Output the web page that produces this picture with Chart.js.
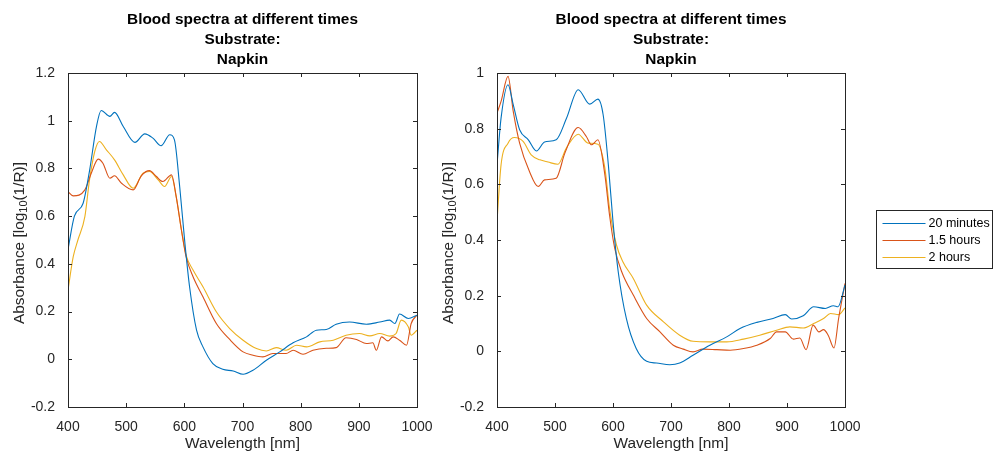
<!DOCTYPE html>
<html lang="en">
<head>
<meta charset="utf-8">
<script src="https://cdn.jsdelivr.net/npm/chart.js@4.4.1/dist/chart.umd.min.js"></script>
<style>
  html, body { margin: 0; padding: 0; background: #fff; }
  body { width: 993px; height: 455px; position: relative; overflow: hidden; }
  .box { position: absolute; top: 0; height: 455px; }
  #boxA { left: 0; width: 460px; }
  #boxB { left: 430px; width: 563px; }
</style>
</head>
<body>
<div class="box" id="boxA"><canvas id="chartA"></canvas></div>
<div class="box" id="boxB"><canvas id="chartB"></canvas></div>
<script>
// -------------------------------------------------------------------
// Data
// -------------------------------------------------------------------
const seriesLabels = ["20 minutes", "1.5 hours", "2 hours"];
const seriesColors = ["#0072BD", "#D95319", "#EDB120"];
const titleLines = ["Blood spectra at different times", "Substrate:", "Napkin"];
const xTicks = [400, 500, 600, 700, 800, 900, 1000];
const yTicksA = [-0.2, 0, 0.2, 0.4, 0.6, 0.8, 1, 1.2];
const yTicksB = [-0.2, 0, 0.2, 0.4, 0.6, 0.8, 1];

// left panel
const wlA20 = [400,411,426,437,449,457,472,480,495,515,532,546,560,575,583,592,601,609,621,632,649,666,684,701,718,741,764,787,810,827,844,861,884,913,936,953,962,970,985,1000];
const absA20 = [0.46,0.60,0.654,0.79,0.976,1.043,1.018,1.035,0.976,0.909,0.945,0.927,0.895,0.941,0.92,0.724,0.486,0.304,0.122,0.052,-0.018,-0.042,-0.049,-0.063,-0.046,-0.004,0.031,0.069,0.094,0.122,0.125,0.147,0.156,0.147,0.156,0.164,0.15,0.19,0.171,0.185];
const wlA15 = [400,409,429,440,452,460,472,480,492,512,526,540,552,563,578,586,595,603,615,632,655,678,701,718,735,752,775,787,804,821,844,861,878,896,913,924,930,939,950,959,970,982,990,1000];
const absA15 = [0.703,0.685,0.71,0.78,0.839,0.822,0.759,0.769,0.738,0.71,0.769,0.791,0.766,0.745,0.773,0.682,0.542,0.43,0.346,0.262,0.15,0.083,0.031,0.017,0.01,0.024,0.024,0.038,0.021,0.038,0.046,0.049,0.09,0.083,0.066,0.069,0.038,0.094,0.077,0.094,0.08,0.059,0.15,0.185];
const wlA2 = [400,409,417,429,437,446,454,466,480,495,512,529,540,555,566,578,586,595,603,615,632,655,678,701,724,741,758,775,793,810,833,856,878,901,919,936,953,964,973,985,990,1000];
const absA2 = [0.29,0.43,0.5,0.598,0.752,0.871,0.913,0.878,0.836,0.773,0.717,0.78,0.787,0.752,0.724,0.766,0.682,0.542,0.437,0.374,0.304,0.199,0.129,0.08,0.045,0.035,0.049,0.038,0.059,0.052,0.073,0.08,0.101,0.108,0.098,0.108,0.097,0.108,0.164,0.136,0.101,0.122];

// right panel
const wlB20 = [400,407,419,428,439,454,468,482,502,520,540,560,574,583,592,600,609,623,640,658,675,698,715,738,767,796,819,848,876,897,908,928,946,966,980,988,1000];
const absB20 = [0.67,0.838,0.958,0.886,0.796,0.76,0.72,0.752,0.76,0.838,0.94,0.888,0.906,0.85,0.67,0.466,0.286,0.118,0.01,-0.036,-0.042,-0.048,-0.042,-0.014,0.022,0.052,0.082,0.104,0.118,0.132,0.116,0.128,0.16,0.154,0.164,0.16,0.238];
const wlB15 = [400,407,419,428,439,456,471,482,502,517,540,554,563,574,586,594,603,615,635,658,681,704,721,738,755,779,802,825,848,871,882,897,911,922,933,945,955,963,971,981,989,1000];
const absB15 = [0.856,0.898,0.988,0.862,0.748,0.646,0.592,0.616,0.622,0.712,0.804,0.772,0.742,0.76,0.634,0.49,0.37,0.286,0.202,0.118,0.07,0.022,0.008,-0.002,0.008,0.006,0.004,0.01,0.022,0.046,0.07,0.07,0.044,0.048,0.006,0.094,0.07,0.078,0.058,0.012,0.118,0.244];
const wlB2 = [400,407,419,430,445,459,474,488,505,520,540,557,574,586,594,606,617,635,658,687,715,738,767,796,825,853,882,905,928,946,963,975,989,1000];
const absB2 = [0.466,0.67,0.748,0.768,0.754,0.706,0.688,0.68,0.672,0.732,0.78,0.748,0.744,0.658,0.514,0.382,0.322,0.262,0.166,0.106,0.058,0.036,0.034,0.034,0.044,0.058,0.076,0.088,0.084,0.1,0.118,0.136,0.132,0.156];

// -------------------------------------------------------------------
// Helpers
// -------------------------------------------------------------------
const FONT = "'Liberation Sans', Arial, Helvetica, sans-serif";
const AXIS_COLOR = "#262626";

function makeSeries(i, wl, ab) {
  return {
    label: seriesLabels[i],
    data: wl.map((x, k) => ({ x: x, y: ab[k] })),
    borderColor: seriesColors[i],
    borderWidth: 1.1,
    pointRadius: 0,
    fill: false,
    cubicInterpolationMode: "monotone"
  };
}

function drawYLabel(ctx, x, y) {
  const big = "15.4px " + FONT;
  const small = "11px " + FONT;
  const parts = [["Absorbance [log", big, 0], ["10", small, 4], ["(1/R)]", big, 0]];
  ctx.save();
  ctx.translate(x, y);
  ctx.rotate(-Math.PI / 2);
  ctx.fillStyle = AXIS_COLOR;
  ctx.textBaseline = "middle";
  ctx.textAlign = "left";
  let total = 0;
  parts.forEach(p => { ctx.font = p[1]; total += ctx.measureText(p[0]).width; });
  let cx = -total / 2;
  parts.forEach(p => {
    ctx.font = p[1];
    ctx.fillText(p[0], cx, p[2]);
    cx += ctx.measureText(p[0]).width;
  });
  ctx.restore();
}

// matlab-ish box, inward ticks on all sides, titles, legend
const matlabAxes = {
  id: "matlabAxes",
  afterDatasetsDraw(chart, args, opts) {
    const { ctx, chartArea: a, scales } = chart;
    const tl = 4;
    ctx.save();
    ctx.strokeStyle = AXIS_COLOR;
    ctx.lineWidth = 1;
    ctx.beginPath();
    scales.x.ticks.forEach(t => {
      const px = Math.round(scales.x.getPixelForValue(t.value)) + 0.5;
      ctx.moveTo(px, a.bottom); ctx.lineTo(px, a.bottom - tl);
      ctx.moveTo(px, a.top); ctx.lineTo(px, a.top + tl);
    });
    scales.y.ticks.forEach(t => {
      const py = Math.round(scales.y.getPixelForValue(t.value)) + 0.5;
      ctx.moveTo(a.left, py); ctx.lineTo(a.left + tl, py);
      ctx.moveTo(a.right, py); ctx.lineTo(a.right - tl, py);
    });
    ctx.stroke();
    ctx.strokeRect(Math.round(a.left) + 0.5, Math.round(a.top) + 0.5,
      Math.round(a.right - a.left), Math.round(a.bottom - a.top));
    ctx.restore();
  },
  afterDraw(chart, args, opts) {
    const { ctx, chartArea: a } = chart;
    const cx = (a.left + a.right) / 2;
    ctx.save();
    ctx.fillStyle = "#000";
    ctx.font = "bold 15.4px " + FONT;
    ctx.textAlign = "center";
    ctx.textBaseline = "middle";
    titleLines.forEach((line, i) => ctx.fillText(line, cx, a.top - 53 + i * 20));
    ctx.restore();

    drawYLabel(ctx, a.left - 48.5, (a.top + a.bottom) / 2 + 3);

    if (opts.legend) {
      const cy = (a.top + a.bottom) / 2 - 1;
      const bx = a.right + 31.5, by = Math.round(cy - 29) + 0.5;
      ctx.save();
      ctx.fillStyle = "#fff";
      ctx.fillRect(bx, by, 116, 58);
      ctx.strokeStyle = AXIS_COLOR;
      ctx.lineWidth = 1;
      ctx.strokeRect(bx, by, 116, 58);
      ctx.font = "12.5px " + FONT;
      ctx.textBaseline = "middle";
      ctx.textAlign = "left";
      chart.data.datasets.forEach((ds, i) => {
        const ry = Math.round(cy - 16 + i * 17) + 0.5;
        ctx.strokeStyle = ds.borderColor;
        ctx.lineWidth = 1.1;
        ctx.beginPath();
        ctx.moveTo(bx + 6, ry); ctx.lineTo(bx + 49, ry);
        ctx.stroke();
        ctx.fillStyle = "#000";
        ctx.fillText(ds.label, bx + 52, ry);
      });
      ctx.restore();
    }
  }
};

// -------------------------------------------------------------------
// Chart setup
// -------------------------------------------------------------------
function makeChart(canvasId, datasets, yTicks, yWidth, padRight, legend) {
  const ctx = document.getElementById(canvasId).getContext("2d");
  return new Chart(ctx, {
    type: "line",
    data: { datasets },
    plugins: [matlabAxes],
    options: {
      responsive: true,
      maintainAspectRatio: false,
      animation: false,
      devicePixelRatio: 1,
      layout: { padding: { top: 73, right: padRight, bottom: 0, left: 0 } },
      plugins: {
        legend: { display: false },
        tooltip: { enabled: false },
        title: { display: false },
        matlabAxes: { legend: legend }
      },
      scales: {
        x: {
          type: "linear",
          min: xTicks[0],
          max: xTicks[xTicks.length - 1],
          afterBuildTicks: s => { s.ticks = xTicks.map(v => ({ value: v })); },
          afterFit: s => { s.height = 48; },
          grid: { display: false },
          border: { display: false },
          ticks: { color: AXIS_COLOR, font: { family: FONT, size: 14 }, padding: 4, maxRotation: 0, callback: v => String(v) },
          title: {
            display: true, text: "Wavelength [nm]", color: AXIS_COLOR,
            font: { family: FONT, size: 15.4 }, padding: { top: 0, bottom: 2 }
          }
        },
        y: {
          type: "linear",
          min: yTicks[0],
          max: yTicks[yTicks.length - 1],
          afterBuildTicks: s => { s.ticks = yTicks.map(v => ({ value: v })); },
          afterFit: s => { s.width = yWidth; },
          grid: { display: false },
          border: { display: false },
          ticks: { color: AXIS_COLOR, font: { family: FONT, size: 14 }, padding: 5, callback: v => String(v) }
        }
      }
    }
  });
}

makeChart("chartA", [
  makeSeries(0, wlA20, absA20),
  makeSeries(1, wlA15, absA15),
  makeSeries(2, wlA2, absA2)
], yTicksA, 68, 43, false);

makeChart("chartB", [
  makeSeries(0, wlB20, absB20),
  makeSeries(1, wlB15, absB15),
  makeSeries(2, wlB2, absB2)
], yTicksB, 67, 148, true);
</script>
</body>
</html>
